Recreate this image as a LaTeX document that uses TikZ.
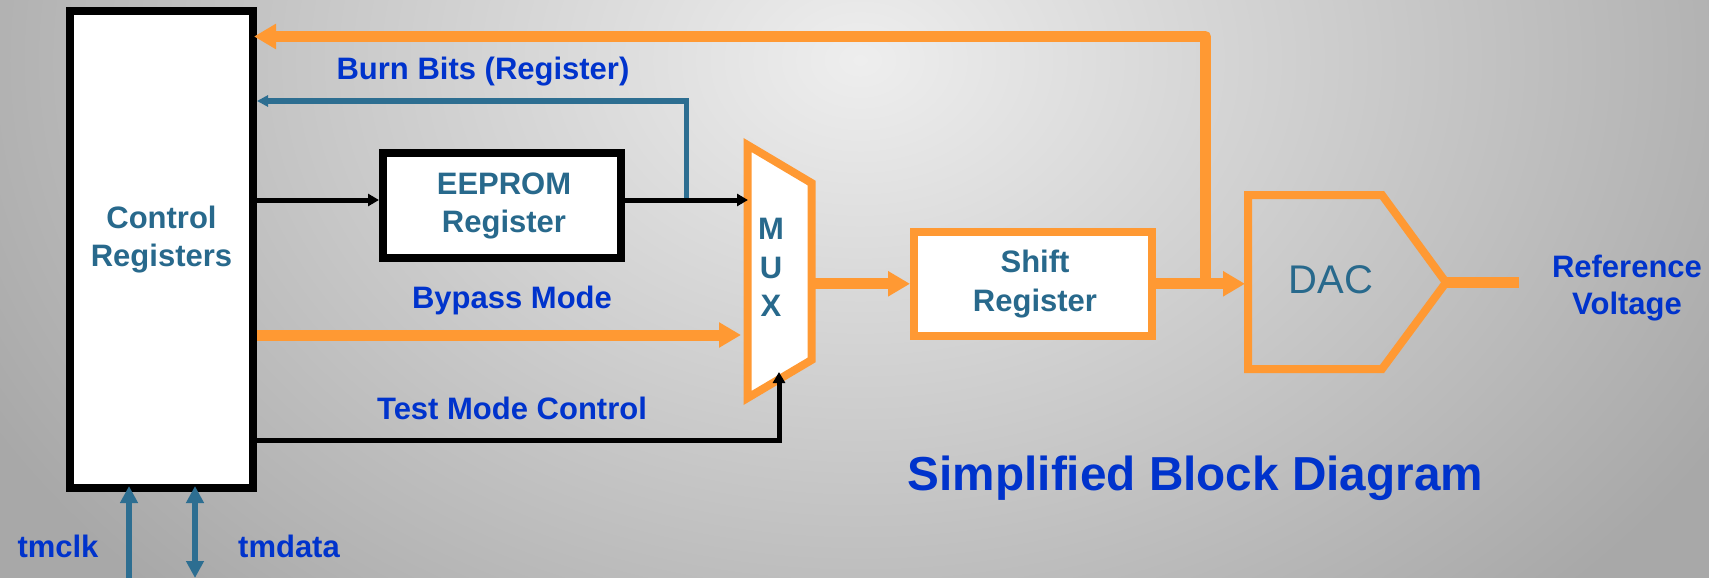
\documentclass[tikz,border=0pt]{standalone}
\usepackage{fontspec}
\setmainfont{Liberation Sans}
\usetikzlibrary{arrows.meta}
\definecolor{orng}{RGB}{255,153,51}
\definecolor{teal}{RGB}{40,105,140}
\definecolor{lineblue}{RGB}{45,110,145}
\definecolor{lblue}{RGB}{0,51,204}
\definecolor{bgin}{RGB}{238,238,238}
\definecolor{bgout}{RGB}{168,168,168}
\tikzset{
  blockbox/.style={draw, fill=white, inner sep=0pt},
  boxtext/.style={text=teal, font=\bfseries\fontsize{31}{38.5}\selectfont, align=center},
  lbl/.style={text=lblue, font=\bfseries\fontsize{31}{38}\selectfont, anchor=base},
  orarrow/.style={draw=orng, line width=11pt, -{Triangle[length=22pt,width=24pt]}},
  orline/.style={draw=orng, line width=11pt},
  blkarrow/.style={draw=black, line width=5pt, -{Triangle[length=11pt,width=12pt]}},
  bluarrow/.style={draw=lineblue, line width=5pt, -{Triangle[length=11pt,width=11pt]}},
  tmarrow/.style={draw=lineblue, line width=6pt},
}
\begin{document}
\begin{tikzpicture}[x=1pt,y=-1pt]
\useasboundingbox (0,0) rectangle (1709,578);
% background
\fill[bgout] (0,0) rectangle (1709,578);
\begin{scope}
\clip (0,0) rectangle (1709,578);
\shade[inner color=bgin, outer color=bgout] (860,60) ellipse [x radius=1000, y radius=750];
\end{scope}

% row levels
\coordinate (rtop) at (0,36.5);
\coordinate (rburn) at (0,101);
\coordinate (rone) at (0,200);
\coordinate (rbyp) at (0,335);
\coordinate (rtest) at (0,440);

% blocks
\node[blockbox, line width=8pt, minimum width=183pt, minimum height=477.4pt] (ctrl) at (161.5,249.3) {};
\node[boxtext] (ctrltxt) at (161.5,239.5) {Control\\Registers};

\node[blockbox, line width=8pt, minimum width=238pt, minimum height=105pt] (eeprom) at (502,205.5) {};
\node[boxtext] (eeptxt) at (504,205.8) {EEPROM\\Register};

\node[blockbox, draw=orng, line width=8pt, minimum width=238pt, minimum height=104.3pt] (sr) at (1033,283.8) {};
\node[boxtext] (srtxt) at (1035,283.9) {Shift\\Register};

% MUX
\draw[draw=orng, fill=white, line width=8pt, line join=miter] (747.5,145) -- (811.5,183) -- (811.5,360) -- (747.5,398) -- cycle;
\node[boxtext, font=\bfseries\fontsize{31}{38.5}\selectfont] (mux) at (771,267.4) {M\\U\\X};
\coordinate (muxin1) at (748,200);
\coordinate (muxin2) at (741,335);
\coordinate (muxin3) at (779,372);
\coordinate (muxout) at (815,283.8);

% DAC
\draw[draw=orng, line width=8pt, line join=miter] (1248,195) -- (1382,195) -- (1446,282.5) -- (1382,369) -- (1248,369) -- cycle;
\node[text=teal, font=\fontsize{40}{48}\selectfont, anchor=base] (dac) at (1331,293) {DAC};
\coordinate (dacin) at (1245,283.8);
\coordinate (dactip) at (1446,282.5);
\coordinate (vout) at (1519,282.5);
\coordinate (fb) at (1205.5,283.8);
\coordinate (bb) at (686,198);

% connectors
\draw[orline] (dactip) -- (vout);
\draw[orarrow] (muxout) -- (sr.west);
\draw[orarrow] (sr.east) -- (dacin);
\draw[orarrow, line join=round] (fb) |- ([xshift=-3pt]ctrl.east |- rtop);
\draw[orarrow] (ctrl.east |- rbyp) -- (muxin2);
\draw[blkarrow] (ctrl.east |- rone) -- (eeprom.west |- rone);
\draw[blkarrow] (eeprom.east |- rone) -- (muxin1);
\draw[bluarrow] (bb) |- (ctrl.east |- rburn);
\draw[blkarrow, line join=miter] (ctrl.east |- rtest) -| (muxin3);

% test-mode pins
\coordinate (clkend) at (129,578);
\coordinate (datend) at (195,578);
\draw[tmarrow, -{Triangle[length=17pt,width=17pt]}] (clkend) -- ([yshift=6pt]ctrl.south -| clkend);
\draw[tmarrow, {Triangle[length=17pt,width=17pt]}-{Triangle[length=17pt,width=17pt]}] (datend) -- ([yshift=6pt]ctrl.south -| datend);

% labels
\node[lbl] (burn) at (483,80) {Burn Bits (Register)};
\node[lbl] (bypass) at (512,308) {Bypass Mode};
\node[lbl] (test) at (512,419.5) {Test Mode Control};
\node[lbl] (tmclk) at (58,557) {tmclk};
\node[lbl] (tmdata) at (289,557) {tmdata};
\node[text=lblue, font=\bfseries\fontsize{31}{37}\selectfont, align=center] (refv) at (1627,288.5) {Reference\\Voltage};
\node[lbl, font=\bfseries\fontsize{47.7}{56}\selectfont] (title) at (1195.5,490) {Simplified Block Diagram};
\end{tikzpicture}
\end{document}
